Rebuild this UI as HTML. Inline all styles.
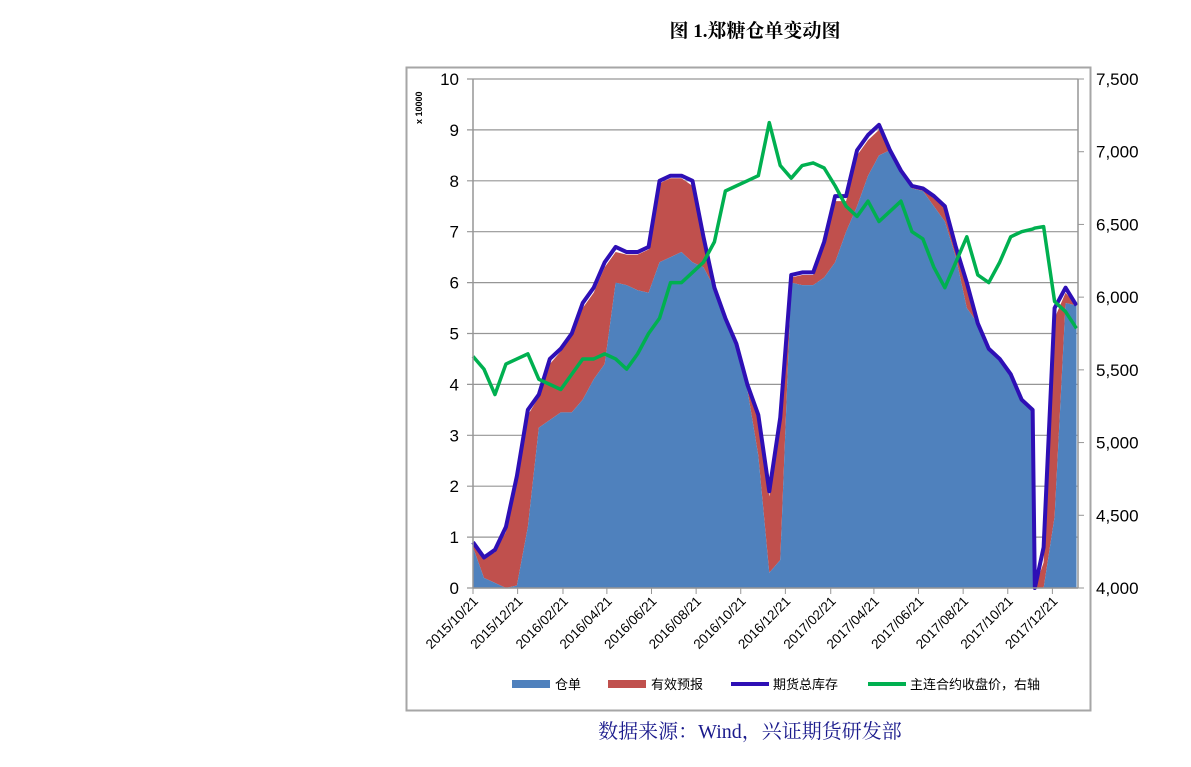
<!DOCTYPE html>
<html><head><meta charset="utf-8"><style>
body{margin:0;background:#fff;}
svg text{font-family:"Liberation Sans","Noto Sans CJK SC",sans-serif;}
</style></head><body>
<svg width="1191" height="762" viewBox="0 0 1191 762" xmlns="http://www.w3.org/2000/svg">
<text x="755" y="37" text-anchor="middle" font-size="19" font-weight="bold" style="font-family:'Liberation Serif','Noto Serif CJK SC',serif">图 1.郑糖仓单变动图</text>
<rect x="406.5" y="67.5" width="684" height="643" fill="none" stroke="#a6a6a6" stroke-width="2"/>
<g id="grid"></g>
<g id="areas"></g>
<g id="lines"></g>
<g id="axes"></g>
<text x="0" y="0" transform="translate(422,124) rotate(-90)" font-size="9" font-weight="bold">x 10000</text>
<g font-size="13" style="font-family:'Liberation Serif','Noto Serif CJK SC',serif">
<g><rect x="512" y="680" width="38" height="8" fill="#4f81bd"/><text x="555" y="689">仓单</text></g>
<g><rect x="608" y="680" width="38" height="8" fill="#c0504d"/><text x="651" y="689">有效预报</text></g>
<g><line x1="731" y1="684" x2="769" y2="684" stroke="#2e0fb5" stroke-width="4"/><text x="773" y="689">期货总库存</text></g>
<g><line x1="868" y1="684" x2="906" y2="684" stroke="#00b050" stroke-width="4"/><text x="910" y="689">主连合约收盘价，右轴</text></g>
</g>
<text x="750" y="738" text-anchor="middle" font-size="20" fill="#1a1a8c" style="font-family:'Liberation Serif','Noto Serif CJK SC',serif">数据来源：Wind，兴证期货研发部</text>
</svg>
<script>
const days=[0,15,30,45,60,75,90,105,120,135,150,165,180,195,210,225,240,255,270,285,300,315,330,345,360,375,390,405,420,435,450,465,480,495,510,525,540,555,570,585,600,615,630,645,660,675,690,705,720,735,750,765,768,780,795,810,825];
const totalStock=[0.9,0.6,0.75,1.2,2.2,3.5,3.8,4.5,4.7,5.0,5.6,5.9,6.4,6.7,6.6,6.6,6.7,8.0,8.1,8.1,8.0,6.9,5.9,5.3,4.8,4.0,3.4,1.9,3.35,6.15,6.2,6.2,6.8,7.7,7.7,8.6,8.9,9.1,8.6,8.2,7.9,7.85,7.7,7.5,6.7,6.0,5.2,4.7,4.5,4.2,3.7,3.5,0,0.8,5.5,5.9,5.55];
const warrant=[0.8,0.2,0.1,0,0.05,1.2,3.15,3.3,3.45,3.45,3.7,4.1,4.4,6.0,5.95,5.85,5.8,6.4,6.5,6.6,6.4,6.3,5.9,5.3,4.8,3.9,2.6,0.3,0.55,6.0,5.95,5.95,6.1,6.4,7.0,7.5,8.1,8.5,8.6,8.15,7.85,7.8,7.5,7.2,6.5,5.5,5.2,4.7,4.5,4.2,3.7,3.5,0,0,1.4,5.6,5.55];
const forecast=[0.1,0.4,0.6,1.1,2.1,2.2,0.6,1.1,1.2,1.5,1.8,1.7,1.9,0.6,0.6,0.7,0.85,1.55,1.55,1.45,1.5,0.5,0,0,0,0.1,0.7,1.5,2.7,0.1,0.2,0.2,0.6,1.2,0.6,1.0,0.7,0.5,0,0.05,0.05,0.05,0.15,0.3,0.2,0.4,0,0,0,0,0,0,0,0.5,3.9,0.2,0];
const price=[5593,5505,5330,5540,5575,5610,5435,5400,5365,5470,5575,5575,5610,5575,5505,5610,5750,5855,6100,6100,6170,6240,6380,6730,6765,6800,6835,7200,6905,6818,6905,6923,6888,6765,6625,6555,6660,6520,6590,6660,6450,6400,6205,6065,6240,6415,6153,6100,6240,6415,6450,6468,6475,6485,5970,5900,5785];
const leftTicks=[0,1,2,3,4,5,6,7,8,9,10];
const rightTicks=[4000,4500,5000,5500,6000,6500,7000,7500];
const xTickLabels=["2015/10/21","2015/12/21","2016/02/21","2016/04/21","2016/06/21","2016/08/21","2016/10/21","2016/12/21","2017/02/21","2017/04/21","2017/06/21","2017/08/21","2017/10/21","2017/12/21"];

const X0=473,X1=1078,Y0=588,Y1=79,DMAX=827;
const base=Date.UTC(2015,9,21);
const x=d=>X0+(d/DMAX)*(X1-X0);
const yL=v=>Y0-(v/10)*(Y0-Y1);
const yR=v=>Y0-((v-4000)/3500)*(Y0-Y1);
const NS="http://www.w3.org/2000/svg";
function mk(tag,parent){const e=document.createElementNS(NS,tag);parent.appendChild(e);return e;}
const grid=document.getElementById('grid'),areas=document.getElementById('areas'),lines=document.getElementById('lines'),axes=document.getElementById('axes');

leftTicks.forEach(t=>{
  const l=mk('line',grid);
  
  
  l.setAttribute('x1',X0-6);l.setAttribute('x2',X1);l.setAttribute('y1',yL(t));l.setAttribute('y2',yL(t));
  l.setAttribute('stroke','#969696');l.setAttribute('stroke-width','1.2');
  const tx=mk('text',axes);
  
  
  tx.setAttribute('x',X0-14);tx.setAttribute('y',yL(t)+6);tx.setAttribute('text-anchor','end');tx.setAttribute('font-size','17');
  tx.textContent=t;
});
rightTicks.forEach(t=>{
  const l=mk('line',axes);
  
  
  l.setAttribute('x1',X1);l.setAttribute('x2',X1+6);l.setAttribute('y1',yR(t));l.setAttribute('y2',yR(t));
  l.setAttribute('stroke','#969696');
  const tx=mk('text',axes);
  
  
  tx.setAttribute('x',X1+18);tx.setAttribute('y',yR(t)+6);tx.setAttribute('font-size','17');
  tx.textContent=t.toLocaleString('en-US');
});
// areas
const topRed=warrant.map((w,i)=>w+forecast[i]);
function areaPath(vals,lower){
  let p='M'+days.map((d,i)=>x(d)+','+yL(vals[i])).join(' L');
  const lw=lower?lower:days.map(()=>0);
  for(let i=days.length-1;i>=0;i--)p+=' L'+x(days[i])+','+yL(lw[i]);
  return p+'Z';
}
const red=mk('path',areas);


red.setAttribute('d',areaPath(topRed,warrant));red.setAttribute('fill','#c0504d');
const blue=mk('path',areas);


blue.setAttribute('d',areaPath(warrant));blue.setAttribute('fill','#4f81bd');
const tl=mk('polyline',lines);


tl.setAttribute('points',days.map((d,i)=>x(d)+','+yL(totalStock[i])).join(' '));
tl.setAttribute('fill','none');tl.setAttribute('stroke','#2e0fb5');tl.setAttribute('stroke-width','4');tl.setAttribute('stroke-linejoin','round');
const pl=mk('polyline',lines);


pl.setAttribute('points',days.map((d,i)=>x(d)+','+yR(price[i])).join(' '));
pl.setAttribute('fill','none');pl.setAttribute('stroke','#00b050');pl.setAttribute('stroke-width','3.5');pl.setAttribute('stroke-linejoin','round');
// axes lines
[[X0,Y1,X0,Y0],[X1,Y1,X1,Y0],[X0,Y0,X1,Y0]].forEach(a=>{
  const l=mk('line',axes);
  
  
  l.setAttribute('x1',a[0]);l.setAttribute('y1',a[1]);l.setAttribute('x2',a[2]);l.setAttribute('y2',a[3]);l.setAttribute('stroke','#969696');l.setAttribute('stroke-width','1.5');
});
xTickLabels.forEach(s=>{
  const p=s.split('/');const d=(Date.UTC(+p[0],+p[1]-1,+p[2])-base)/864e5;
  const xx=x(d);
  const l=mk('line',axes);
  
  
  l.setAttribute('x1',xx);l.setAttribute('x2',xx);l.setAttribute('y1',Y0);l.setAttribute('y2',Y0+6);l.setAttribute('stroke','#969696');
  const tx=mk('text',axes);
  
  
  tx.setAttribute('transform','translate('+(xx+6)+','+(Y0+14)+') rotate(-45)');
  tx.setAttribute('text-anchor','end');tx.setAttribute('font-size','13.5');
  tx.textContent=s;
});
</script>
</body></html>
